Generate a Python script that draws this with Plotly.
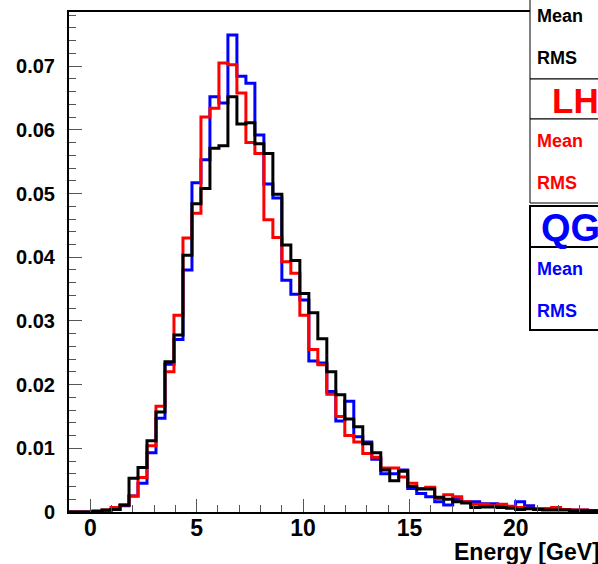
import plotly.graph_objects as go

# histogram binning
bin_low = -1.137
bin_width = 0.4225

# bin contents, normalised (first three bins are empty)
black = [0, 0, 0,
         0.0001, 0.0003, 0.0004, 0.0011, 0.0053, 0.0070, 0.0112, 0.0157, 0.0236, 0.0278,
         0.0403, 0.0484, 0.0508, 0.0571, 0.0575, 0.0652, 0.0609, 0.0611, 0.0578, 0.0563,
         0.0499, 0.0419, 0.0395, 0.0343, 0.0313, 0.0272, 0.0220, 0.0184, 0.0146, 0.0134,
         0.0107, 0.0093, 0.0066, 0.0049, 0.0064, 0.0040, 0.0036, 0.0036, 0.0023, 0.0020,
         0.0016, 0.0014, 0.0007, 0.0008, 0.0008, 0.0007, 0.0006, 0.0004, 0.0005, 0.0004,
         0.0003, 0.0003, 0.0003, 0.0002, 0.0002, 0.0002, 0.0001]
red = [0, 0, 0,
       0.0001, 0.0003, 0.0007, 0.0011, 0.0025, 0.0054, 0.0104, 0.0166, 0.0220, 0.0309,
       0.0430, 0.0469, 0.0620, 0.0634, 0.0705, 0.0702, 0.0658, 0.0580, 0.0563, 0.0459,
       0.0431, 0.0393, 0.0375, 0.0309, 0.0255, 0.0231, 0.0185, 0.0150, 0.0120, 0.0110,
       0.0092, 0.0086, 0.0069, 0.0069, 0.0055, 0.0045, 0.0037, 0.0039, 0.0021, 0.0027,
       0.0024, 0.0016, 0.0012, 0.0012, 0.0010, 0.0012, 0.0009, 0.0007, 0.0006, 0.0005,
       0.0004, 0.0007, 0.0004, 0.0003, 0.0003, 0.0002, 0.0002]
blue = [0, 0, 0,
        0.0001, 0.0002, 0.0004, 0.0010, 0.0025, 0.0045, 0.0093, 0.0147, 0.0232, 0.0271,
        0.0380, 0.0517, 0.0553, 0.0652, 0.0642, 0.0749, 0.0684, 0.0673, 0.0592, 0.0515,
        0.0493, 0.0364, 0.0342, 0.0333, 0.0237, 0.0234, 0.0189, 0.0143, 0.0174, 0.0118,
        0.0110, 0.0083, 0.0060, 0.0060, 0.0066, 0.0037, 0.0029, 0.0024, 0.0016, 0.0011,
        0.0020, 0.0016, 0.0016, 0.0013, 0.0013, 0.0010, 0.0008, 0.0016, 0.0010, 0.0005,
        0.0005, 0.0004, 0.0004, 0.0003, 0.0003, 0.0002, 0.0002]

FONT = 'Liberation Sans'

W, H = 598, 564
L, T, B = 69, 12, 512   # frame edges in pixels
PW = W - L
PH = B - T


def px(x):
    return (x - L) / PW


def py(y):
    return (B - y) / PH


def step(vals):
    edges = [bin_low + i * bin_width for i in range(len(vals) + 1)]
    return edges, vals + [vals[-1]]


fig = go.Figure()
for vals, col in [(blue, '#0000ff'), (red, '#ff0000'), (black, '#000000')]:
    xs, ys = step(vals)
    fig.add_trace(go.Scatter(x=xs, y=ys, mode='lines', line_shape='hv',
                             line=dict(color=col, width=3), showlegend=False))

fig.update_layout(
    width=W, height=H,
    margin=dict(l=L, r=0, t=T, b=H - B),
    paper_bgcolor='white', plot_bgcolor='white',
    xaxis=dict(range=[-1, -1 + PW / 21.28], tick0=0, dtick=5,
               ticks='inside', ticklen=13, tickwidth=1, tickcolor='#555',
               minor=dict(dtick=1, ticks='inside', ticklen=7, tickcolor='#555'),
               showgrid=False, zeroline=False, showline=True, linecolor='black',
               linewidth=2, mirror=True,
               tickfont=dict(family=FONT, size=23, color='black', weight='bold'),
               ticklabelstandoff=-6),
    yaxis=dict(range=[0, 0.0785], tick0=0, dtick=0.01,
               ticks='inside', ticklen=13, tickwidth=1, tickcolor='#555',
               minor=dict(dtick=0.002, ticks='inside', ticklen=7, tickcolor='#555'),
               showgrid=False, zeroline=False, showline=True, linecolor='black',
               linewidth=2,
               tickfont=dict(family=FONT, size=20, color='black', weight='bold'),
               ticklabelstandoff=8),
)

# axis title
fig.add_annotation(text='Energy [GeV]', xref='paper', yref='paper',
                   x=px(602), y=py(552), xanchor='right', yanchor='middle',
                   showarrow=False,
                   font=dict(family=FONT, size=23, color='black', weight='bold'))

# stat boxes (cut at the right edge)
boxes = [
    (-5, 79, 1),
    (79, 119, 1), (119, 203, 1),
    (206, 247, 2), (247, 330, 2),
]
for y0, y1, lw in boxes:
    fig.add_shape(type='rect', xref='paper', yref='paper', layer='above',
                  x0=px(530), x1=px(680), y0=py(y1), y1=py(y0),
                  fillcolor='white', line=dict(color='black', width=lw))

stats = [
    ('Mean', 16, 'black'), ('RMS', 58, 'black'),
    ('Mean', 141, '#ff0000'), ('RMS', 183, '#ff0000'),
    ('Mean', 269, '#0000ff'), ('RMS', 311, '#0000ff'),
]
for txt, yy, col in stats:
    fig.add_annotation(text=txt, xref='paper', yref='paper', x=px(535), y=py(yy),
                       xanchor='left', yanchor='middle', showarrow=False,
                       font=dict(family=FONT, size=18, color=col, weight='bold'))

for txt, xx, yy, col, sz in [('LH', 550, 100, '#ff0000', 35),
                             ('QG', 539, 228, '#0000ff', 38)]:
    fig.add_annotation(text=txt, xref='paper', yref='paper', x=px(xx), y=py(yy),
                       xanchor='left', yanchor='middle', showarrow=False,
                       font=dict(family=FONT, size=sz, color=col, weight='bold'))

# drop the page's default 8px body margin so the figure fills the window
fig.write_html("out.html", config={'displayModeBar': False},
               post_script="document.body.style.margin='0';"
                           "document.body.style.overflow='hidden';")
